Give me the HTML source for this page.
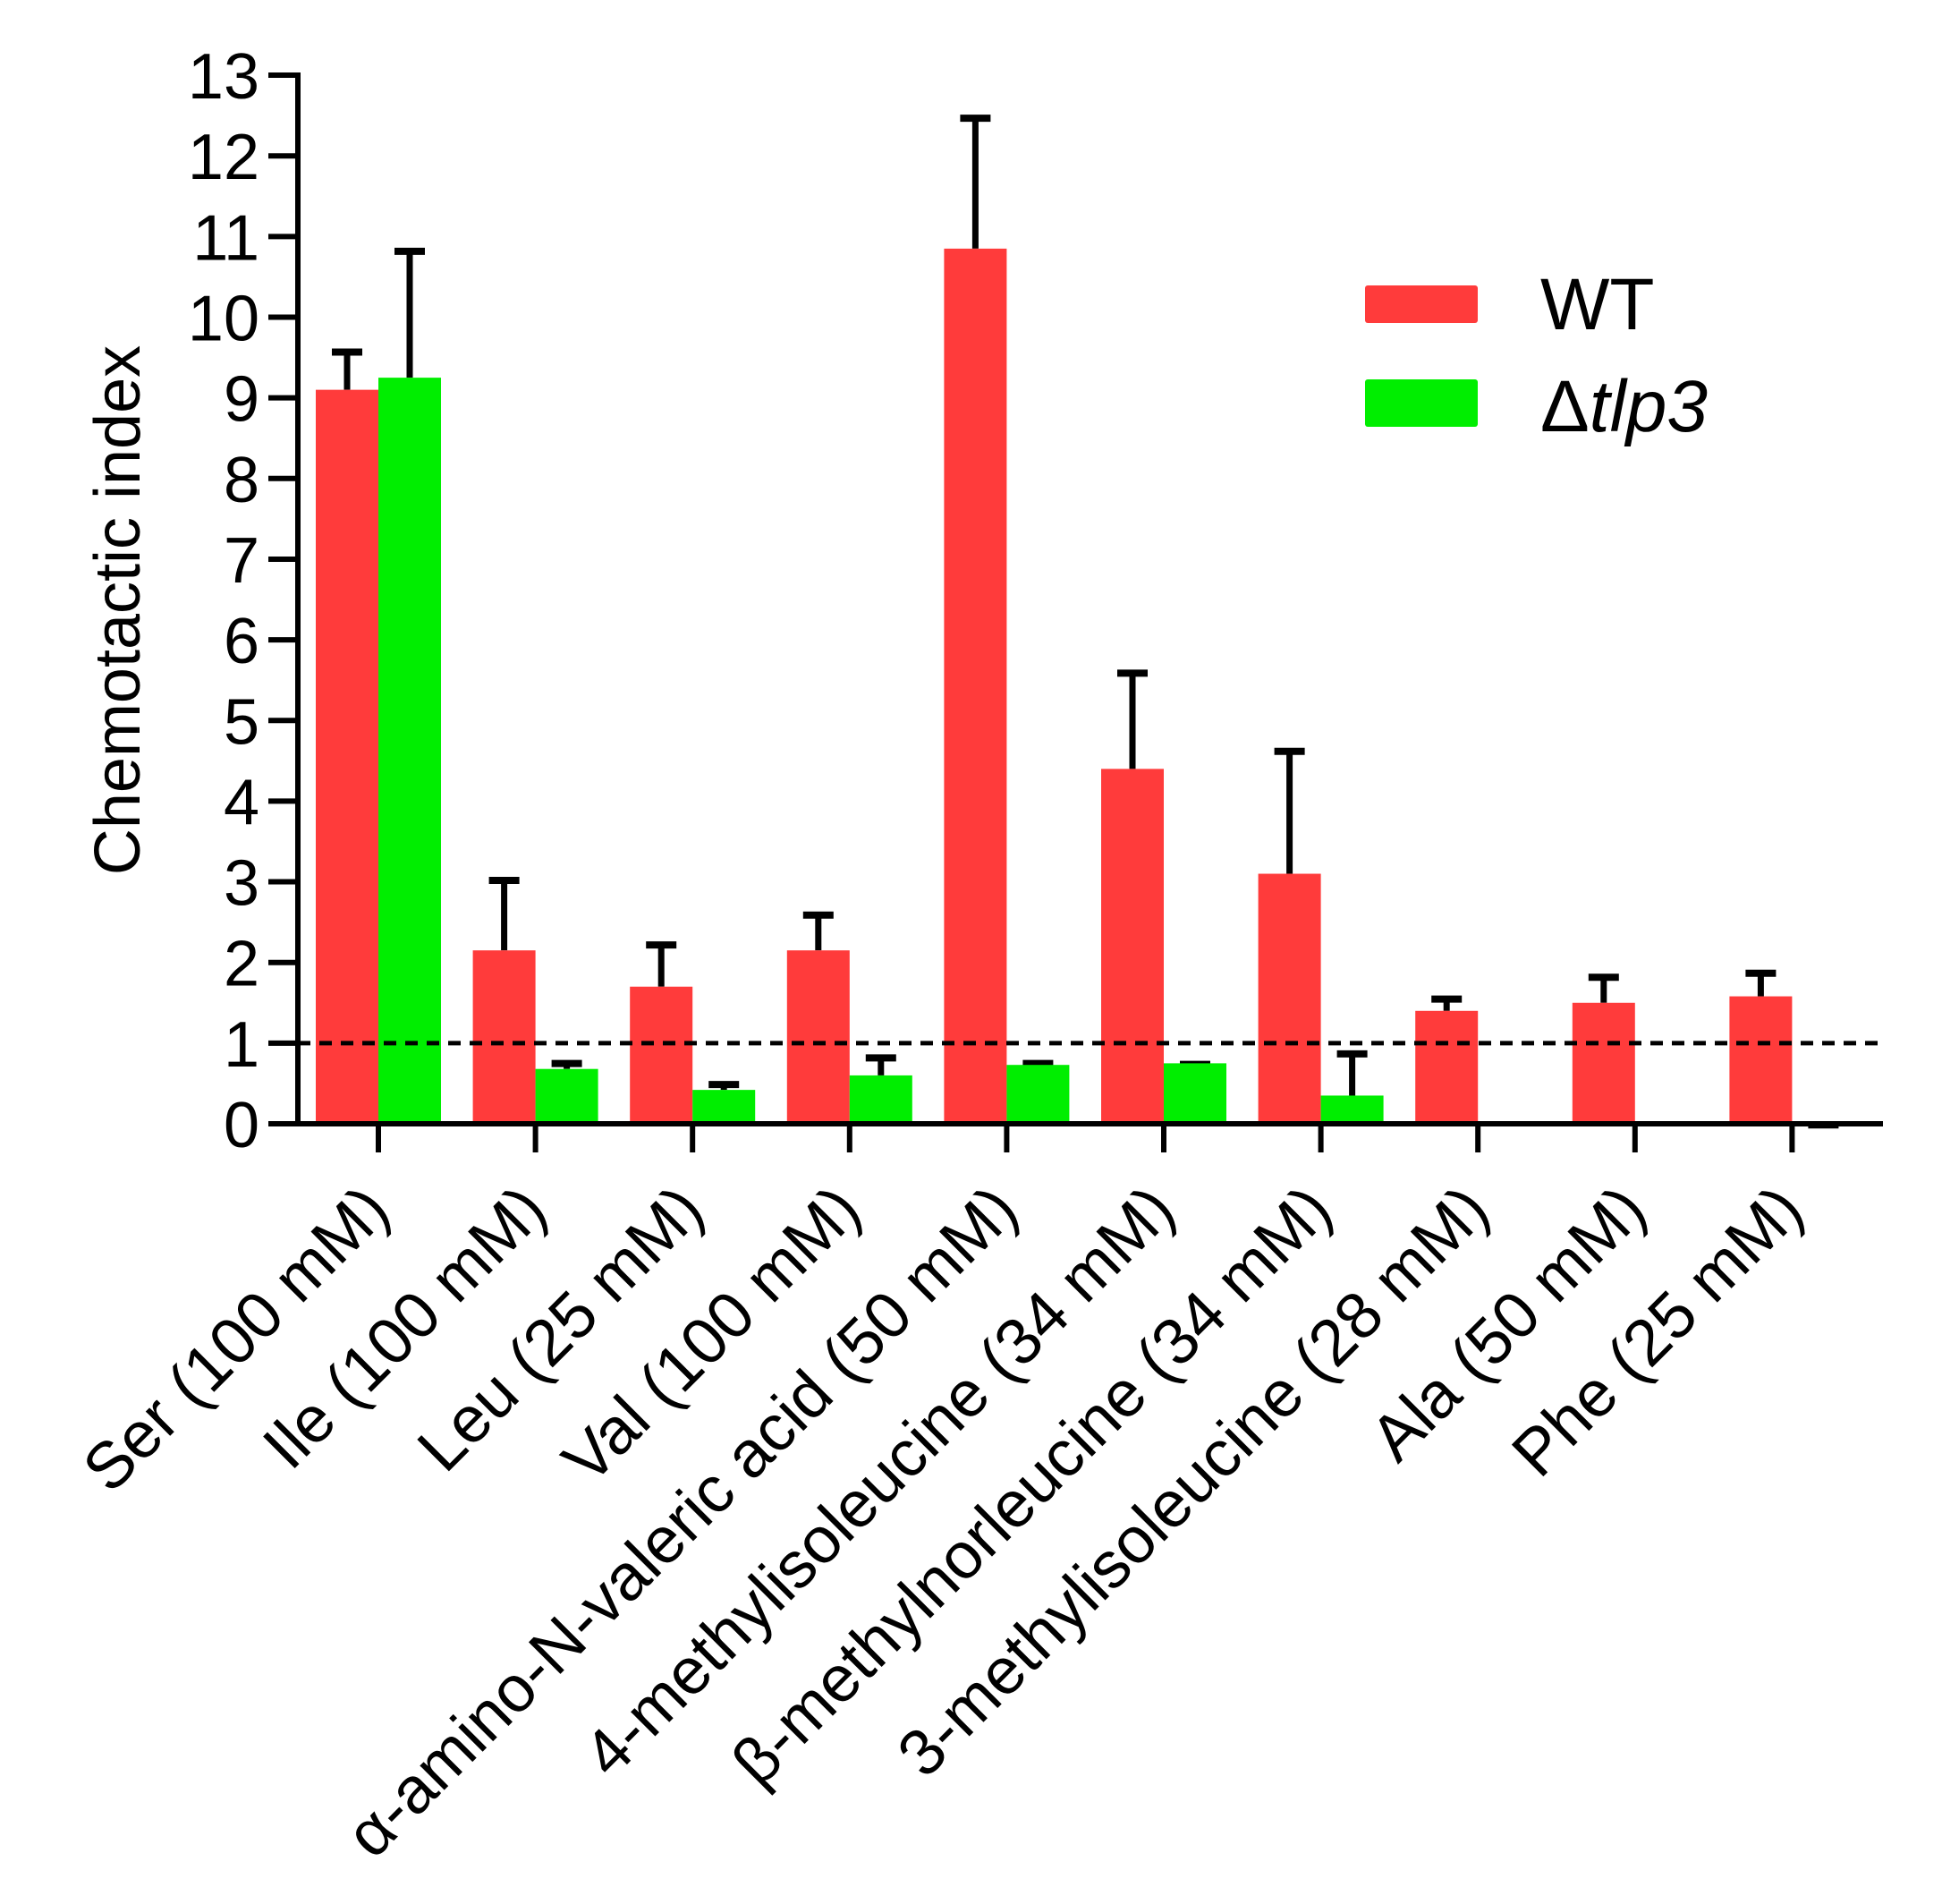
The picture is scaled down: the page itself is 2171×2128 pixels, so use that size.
<!DOCTYPE html>
<html><head><meta charset="utf-8"><style>html,body{margin:0;padding:0;background:#fff}svg{display:block}text{font-family:"Liberation Sans",Arial,sans-serif;fill:#000}</style></head>
<body>
<svg width="2171" height="2128" viewBox="0 0 2171 2128" xmlns="http://www.w3.org/2000/svg">
<script>
(function(){
const svg=document.querySelector('svg');
const NS='http://www.w3.org/2000/svg';
function el(t,a,txt){const e=document.createElementNS(NS,t);for(const k in a)e.setAttribute(k,a[k]);if(txt!==undefined)e.textContent=txt;svg.appendChild(e);return e;}
const y0=1256,u=90.15;const Y=v=>y0-v*u;
const wt=[9.1,2.15,1.7,2.15,10.85,4.4,3.1,1.4,1.5,1.58];
const wte=[9.6,3.05,2.25,2.62,12.5,5.62,4.65,1.58,1.85,1.9];
const kt=[9.25,0.68,0.42,0.6,0.73,0.75,0.35,0,0.03,0.02];
const kte=[10.85,0.78,0.52,0.85,0.78,0.77,0.9,null,null,0.02];
const labels=["Ser (100 mM)","Ile (100 mM)","Leu (25 mM)","Val (100 mM)","\u03b1-amino-N-valeric acid (50 mM)","4-methylisoleucine (34 mM)","\u03b2-methylnorleucine (34 mM)","3-methylisoleucine (28 mM)","Ala (50 mM)","Phe (25 mM)"];
function eb(cx,top,tv){ if(tv==null)return; const ty=Y(tv); el('line',{x1:cx,x2:cx,y1:top,y2:ty,stroke:'#000','stroke-width':7}); el('line',{x1:cx-17,x2:cx+17,y1:ty+3,y2:ty+3,stroke:'#000','stroke-width':8});}
for(let i=0;i<10;i++){
 const t=423+175.6*i;
 eb(t-35,Y(wt[i]),wte[i]);
 eb(t+35,Y(kt[i]),kte[i]);
 el('rect',{x:t-70,y:Y(wt[i]),width:70,height:wt[i]*u,fill:'#ff3b3b'});
 if(kt[i]>0) el('rect',{x:t,y:Y(kt[i]),width:70,height:Math.max(kt[i]*u,3),fill:'#00ee00'});
 el('line',{x1:t,x2:t,y1:y0,y2:1288,stroke:'#000','stroke-width':6});
 el('text',{x:0,y:0,'font-size':73,'text-anchor':'end',transform:`translate(${t+16},1356) rotate(-45)`},labels[i]);
}
el('line',{x1:333,x2:2105,y1:Y(1),y2:Y(1),stroke:'#000','stroke-width':5,'stroke-dasharray':'14 10'});
el('line',{x1:333,x2:333,y1:81,y2:y0+3,stroke:'#000','stroke-width':6});
el('line',{x1:300,x2:2105,y1:y0,y2:y0,stroke:'#000','stroke-width':6});
for(let v=0;v<=13;v++){el('line',{x1:300,x2:333,y1:Y(v),y2:Y(v),stroke:'#000','stroke-width':6});
 el('text',{x:290,y:Y(v)+26,'font-size':72,'text-anchor':'end'},String(v));}
el('text',{x:0,y:0,'font-size':72,'text-anchor':'middle',transform:'translate(156,682) rotate(-90)'},'Chemotactic index');
el('rect',{x:1526,y:319,width:126,height:42,fill:'#ff3b3b',rx:3});
el('rect',{x:1526,y:424,width:126,height:53,fill:'#00ee00',rx:3});
el('text',{x:1722,y:368,'font-size':82},'WT');
const t2=el('text',{x:1722,y:482,'font-size':82},'\u0394');
const ts=document.createElementNS(NS,'tspan');ts.setAttribute('font-style','italic');ts.textContent='tlp3';t2.appendChild(ts);
})();
</script>
</svg>
</body></html>
